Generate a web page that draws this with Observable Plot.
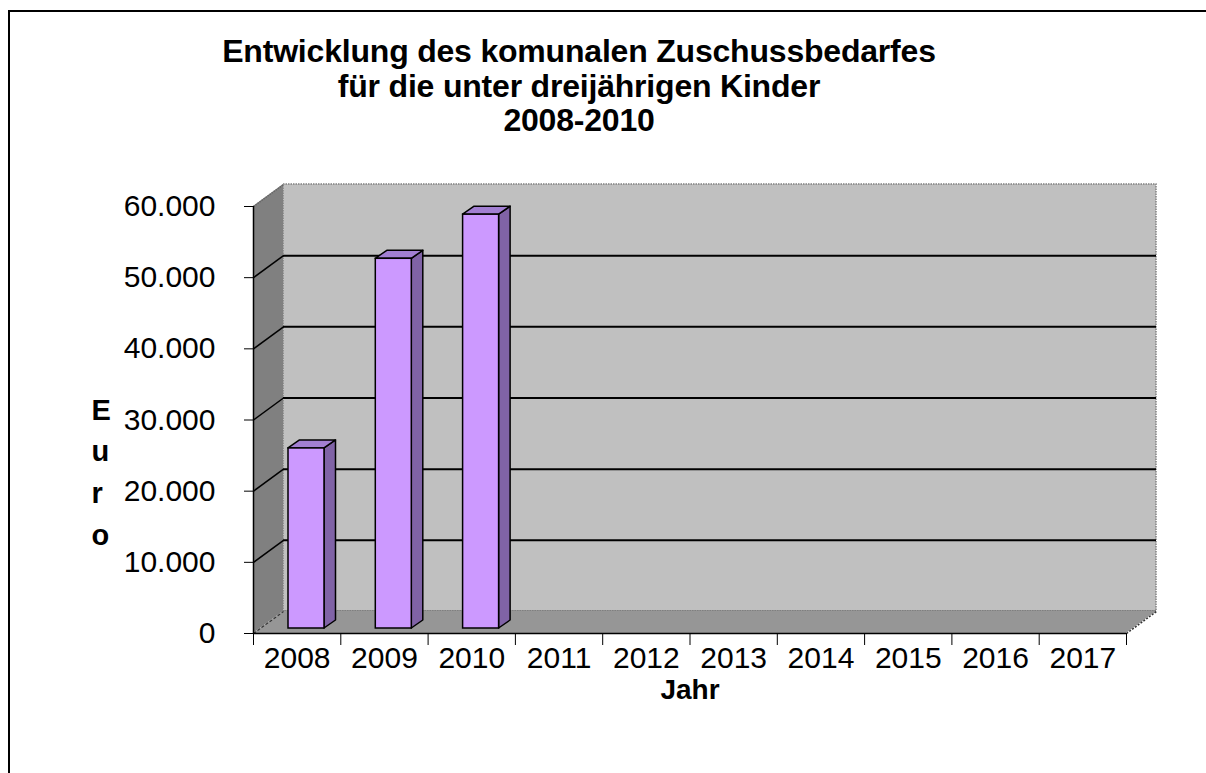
<!DOCTYPE html>
<html>
<head>
<meta charset="utf-8">
<script src="https://cdn.jsdelivr.net/npm/d3@7"></script>
<script src="https://cdn.jsdelivr.net/npm/@observablehq/plot@0.6"></script>
<style>
  html, body { margin: 0; padding: 0; background: #fff; }
  #page { position: relative; width: 1206px; height: 773px; overflow: hidden; font-family: Arial, "Liberation Sans", sans-serif; }
  #frame { position: absolute; left: 8px; top: 10px; width: 3000px; height: 3000px; border-left: 2px solid #000; border-top: 2px solid #000; }
  #title { position: absolute; left: 0; top: 0; width: 1158px; height: 150px; box-sizing: border-box; padding-top: 34px;
           text-align: center; font-weight: bold; font-size: 32px; line-height: 34.5px; color: #000; letter-spacing: -0.2px; }
  #chart { position: absolute; left: 0; top: 150px; }
</style>
</head>
<body>
<div id="page">
  <div id="frame"></div>
  <div id="title">Entwicklung des komunalen Zuschussbedarfes<br>für die unter dreijährigen Kinder<br>2008-2010</div>
  <div id="chart"></div>
</div>
<script>
// ---- data ----
const years = ["2008", "2009", "2010", "2011", "2012", "2013", "2014", "2015", "2016", "2017"];
const values = [25300, 51950, 58150];
const yTicks = [0, 10000, 20000, 30000, 40000, 50000, 60000];
const xLabel = "Jahr";
const yLabel = "Euro";

// ---- layout / style ----
const W = 1206, H = 623;
const mL = 253, mR = 80, mT = 56, mB = 140;
const yMax = 60000;
const nCat = years.length;
const px2x = nCat / (W - mL - mR);
const px2y = yMax / (H - mT - mB);
// 3D depth offsets (pixels -> data units)
const Dx = 30 * px2x, Dy = 22 * px2y;           // wall depth
const bdx = 9.35 * px2x, bdy = 5 * px2y;        // bar placement in depth
const sdx = 11.5 * px2x, sdy = 8 * px2y;        // bar own depth
const bw = 36 * px2x;                            // bar width

const fmt = d3.formatLocale({decimal: ",", thousands: ".", grouping: [3], currency: ["", "€"]}).format(",");

const bars = values.map((v, i) => {
  const xl = i + 0.5 - bw / 2 + bdx, xr = i + 0.5 + bw / 2 + bdx;
  return {year: years[i], v, xl, xr, y0: bdy, y1: v + bdy};
});
const sidePts = bars.flatMap(b => [
  {z: b.year, x: b.xr, y1: b.y0, y2: b.y1},
  {z: b.year, x: b.xr + sdx, y1: b.y0 + sdy, y2: b.y1 + sdy}
]);
const topPts = bars.flatMap(b => [
  {z: b.year, y: b.y1, x1: b.xl, x2: b.xr},
  {z: b.year, y: b.y1 + sdy, x1: b.xl + sdx, x2: b.xr + sdx}
]);
const gridVals = yTicks.filter(v => v > 0 && v < yMax);

const plot = Plot.plot({
  width: W, height: H,
  marginLeft: mL, marginRight: mR, marginTop: mT, marginBottom: mB,
  x: {domain: [0, nCat]},
  y: {domain: [0, yMax]},
  style: {fontFamily: "Arial, 'Liberation Sans', sans-serif", fontSize: "30px", background: "transparent", overflow: "visible", color: "#000"},
  marks: [
    // back wall
    Plot.rect([{}], {x1: Dx, x2: nCat + Dx, y1: Dy, y2: yMax + Dy, fill: "#c0c0c0", stroke: "#808080", strokeWidth: 1.5, strokeDasharray: "1.5,1"}),
    Plot.ruleY([0], {x1: Dx, x2: nCat + Dx, y: d => d + Dy, stroke: "#6e6e6e", strokeWidth: 2}),
    Plot.ruleY(gridVals, {x1: Dx, x2: nCat + Dx, y: d => d + Dy, stroke: "#000", strokeWidth: 2}),
    // side wall
    Plot.areaY([{x: 0, y1: 0, y2: yMax}, {x: Dx, y1: Dy, y2: yMax + Dy}], {x: "x", y1: "y1", y2: "y2", fill: "#808080"}),
    Plot.link(gridVals, {x1: 0, y1: d => d, x2: Dx, y2: d => d + Dy, stroke: "#000", strokeWidth: 1.5}),
    Plot.link([yMax], {x1: 0, y1: d => d, x2: Dx, y2: d => d + Dy, stroke: "#666", strokeWidth: 1.5, strokeDasharray: "1.5,1"}),
    // floor
    Plot.areaX([{y: 0, x1: 0, x2: nCat}, {y: Dy, x1: Dx, x2: nCat + Dx}], {y: "y", x1: "x1", x2: "x2", fill: "#969696"}),
    Plot.link([0], {x1: 0, y1: 0, x2: Dx, y2: Dy, stroke: "#333", strokeWidth: 1.2, strokeDasharray: "3,2"}),
    Plot.link([nCat], {x1: d => d, y1: 0, x2: d => d + Dx, y2: Dy, stroke: "#333", strokeWidth: 1.5, strokeDasharray: "2,1.5"}),
    // front edges
    Plot.ruleX([0], {y1: 0, y2: yMax, stroke: "#000", strokeWidth: 1.5}),
    Plot.ruleY([0], {x1: 0, x2: nCat, stroke: "#000", strokeWidth: 1.5}),
    // bars
    Plot.areaY(sidePts, {x: "x", y1: "y1", y2: "y2", z: "z", fill: "#8063a6", stroke: "#000", strokeWidth: 1.5}),
    Plot.areaX(topPts, {y: "y", x1: "x1", x2: "x2", z: "z", fill: "#a27fd2", stroke: "#000", strokeWidth: 1.5}),
    Plot.rect(bars, {x1: "xl", x2: "xr", y1: "y0", y2: "y1", fill: "#cc99ff", stroke: "#000", strokeWidth: 1.5}),
    // axes
    Plot.axisY({ticks: yTicks, tickSize: 9, tickPadding: 29, tickFormat: fmt, label: null, fontSize: 30}),
    Plot.axisX({ticks: d3.range(nCat + 1), tickSize: 12, tickFormat: () => "", label: null}),
    Plot.axisX({ticks: years.map((y, i) => i + 0.5), tickSize: 0, tickPadding: 13, tickFormat: d => years[Math.floor(d)], label: null, fontSize: 30}),
    // axis titles
    Plot.text([xLabel], {frameAnchor: "bottom", lineAnchor: "middle", dy: 57, fontWeight: "bold", fontSize: 28}),
    Plot.text([yLabel.split("").join("\n")], {frameAnchor: "left", lineAnchor: "middle", dx: -162, dy: 49, fontWeight: "bold", fontSize: 29, lineHeight: 1.44})
  ]
});
document.getElementById("chart").appendChild(plot);
</script>
</body>
</html>
